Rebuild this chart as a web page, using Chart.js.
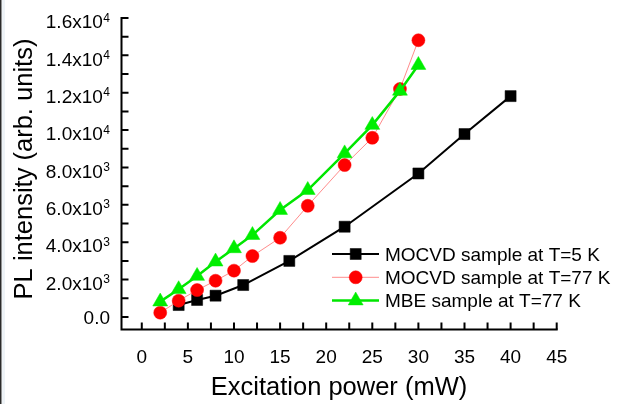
<!DOCTYPE html>
<html><head><meta charset="utf-8">
<script src="https://cdn.jsdelivr.net/npm/chart.js@4/dist/chart.umd.min.js"></script>
<style>html,body{margin:0;padding:0;background:#fff;overflow:hidden}#wrap{width:617px;height:404px;position:relative}</style>
</head><body><div id="wrap"><canvas id="c"></canvas></div>
<script>
// ---- data ----
const powerMocvd5K = [4, 6, 8, 11, 16, 22, 30, 35, 40];
const mocvd5K = [640, 910, 1140, 1710, 3000, 4830, 7680, 9790, 11820];
const power77K = [2, 4, 6, 8, 10, 12, 15, 18, 22, 25, 28, 30];
const mocvd77K = [230, 870, 1440, 1940, 2480, 3260, 4240, 5950, 8130, 9590, 12200, 14810];
const mbe77K = [820, 1480, 2190, 2960, 3670, 4380, 5720, 6790, 8750, 10270, 12100, 13480];
const seriesLabels = ['MOCVD sample at T=5 K', 'MOCVD sample at T=77 K', 'MBE sample at T=77 K'];
const xTicks = [0, 5, 10, 15, 20, 25, 30, 35, 40, 45];
const yTicks = [0, 2000, 4000, 6000, 8000, 10000, 12000, 14000, 16000];
const yTickMantissa = ['0.0', '2.0x10', '4.0x10', '6.0x10', '8.0x10', '1.0x10', '1.2x10', '1.4x10', '1.6x10'];
const yTickExponent = ['', '3', '3', '3', '3', '4', '4', '4', '4'];
const xTitle = 'Excitation power (mW)';
const yTitle = 'PL intensity (arb. units)';

const FONT = '"Liberation Sans", Arial, sans-serif';
const pts = (xs, ys) => xs.map((v, i) => ({x: v, y: ys[i]}));

const styles = [
  {color: '#000000', line: '#000000', lw: 2, ps: 'rect', r: 7.8},
  {color: '#ff0000', line: '#ff8c8c', lw: 1, ps: 'circle', r: 6.5},
  {color: '#00ee00', line: '#00e600', lw: 2.5, ps: 'triangle', r: 8.6}
];
const dataXs = [powerMocvd5K, power77K, power77K];
const dataYs = [mocvd5K, mocvd77K, mbe77K];
const orders = [2, 1, 0];

const datasets = seriesLabels.map((lab, i) => ({
  label: lab,
  data: pts(dataXs[i], dataYs[i]),
  showLine: true,
  borderColor: styles[i].line,
  borderWidth: styles[i].lw,
  backgroundColor: styles[i].color,
  pointBackgroundColor: styles[i].color,
  pointBorderColor: styles[i].color,
  pointBorderWidth: 0.5,
  pointStyle: styles[i].ps,
  pointRadius: styles[i].r,
  pointHoverRadius: styles[i].r,
  tension: 0,
  order: orders[i],
  clip: false
}));

const deco = {
  id: 'deco',
  beforeDraw(chart) {
    const ctx = chart.ctx;
    ctx.save();
    ctx.fillStyle = '#ffffff';
    ctx.fillRect(0, 0, chart.width, chart.height);
    ctx.fillStyle = '#2a2a2a';
    ctx.fillRect(0, 0, 1.5, chart.height);
    ctx.fillStyle = '#eef3f7';
    ctx.fillRect(2, 0, 3, chart.height);
    ctx.restore();
  },
  afterDraw(chart) {
    const ctx = chart.ctx;
    const xs = chart.scales.x, ys = chart.scales.y;
    const L = chart.chartArea.left, B = chart.chartArea.bottom;
    ctx.save();
    ctx.strokeStyle = '#000';
    ctx.lineWidth = 2;
    ctx.lineCap = 'butt';
    const yTop = ys.getPixelForValue(yTicks[yTicks.length - 1]);
    const xRight = xs.getPixelForValue(xTicks[xTicks.length - 1]);
    ctx.beginPath();
    ctx.moveTo(L, B + 1); ctx.lineTo(L, yTop - 1);
    ctx.moveTo(L - 1, B); ctx.lineTo(xRight + 1, B);
    ctx.stroke();
    // ticks (inward), major + minor
    const tl = 7;
    ctx.beginPath();
    for (let i = 0; i < xTicks.length; i++) {
      const v = xTicks[i];
      const px = xs.getPixelForValue(v);
      ctx.moveTo(px, B); ctx.lineTo(px, B - tl);
      if (i < xTicks.length - 1) {
        const pm = xs.getPixelForValue((v + xTicks[i + 1]) / 2);
        ctx.moveTo(pm, B); ctx.lineTo(pm, B - tl);
      }
    }
    for (let i = 0; i < yTicks.length; i++) {
      const v = yTicks[i];
      const py = ys.getPixelForValue(v);
      ctx.moveTo(L, py); ctx.lineTo(L + tl, py);
      if (i < yTicks.length - 1) {
        const pm = ys.getPixelForValue((v + yTicks[i + 1]) / 2);
        ctx.moveTo(L, pm); ctx.lineTo(L + tl, pm);
      }
    }
    ctx.stroke();
    // x tick labels
    ctx.fillStyle = '#000';
    ctx.font = '19px ' + FONT;
    ctx.textAlign = 'center';
    ctx.textBaseline = 'alphabetic';
    xTicks.forEach(v => ctx.fillText(String(v), xs.getPixelForValue(v), 363));
    // y tick labels with superscript exponents
    const rightEdge = 110;
    yTicks.forEach((v, i) => {
      const py = ys.getPixelForValue(v);
      const e = yTickExponent[i];
      if (!e) {
        ctx.font = '19px ' + FONT;
        ctx.textAlign = 'right';
        ctx.fillText(yTickMantissa[i], rightEdge, py + 6.8);
      } else {
        ctx.font = '12px ' + FONT;
        ctx.textAlign = 'right';
        const ew = ctx.measureText(e).width;
        ctx.fillText(e, rightEdge, py + 3.6);
        ctx.font = '19px ' + FONT;
        ctx.fillText(yTickMantissa[i], rightEdge - ew - 0.5, py + 10.2);
      }
    });
    // axis titles
    ctx.font = '25.5px ' + FONT;
    ctx.textAlign = 'center';
    ctx.fillText(xTitle, 339, 395);
    ctx.save();
    ctx.translate(32, 169);
    ctx.rotate(-Math.PI / 2);
    ctx.fillText(yTitle, 0, 0);
    ctx.restore();
    // legend
    const rows = [254, 277.3, 300.6];
    chart.data.datasets.forEach((ds, i) => {
      const cy = rows[i];
      ctx.strokeStyle = ds.borderColor;
      ctx.lineWidth = ds.borderWidth;
      ctx.beginPath();
      ctx.moveTo(332, cy); ctx.lineTo(379, cy);
      ctx.stroke();
      ctx.fillStyle = ds.pointBackgroundColor;
      ctx.strokeStyle = ds.pointBorderColor;
      ctx.lineWidth = ds.pointBorderWidth;
      Chart.helpers.drawPoint(ctx, {pointStyle: ds.pointStyle, radius: ds.pointRadius, rotation: 0, borderWidth: ds.pointBorderWidth}, 355.7, cy);
      ctx.fillStyle = '#000';
      ctx.font = '19px ' + FONT;
      ctx.textAlign = 'left';
      ctx.fillText(ds.label, 385, cy + 6.8);
    });
    ctx.restore();
  }
};

new Chart(document.getElementById('c'), {
  type: 'scatter',
  data: {datasets},
  options: {
    responsive: true,
    maintainAspectRatio: false,
    animation: false,
    devicePixelRatio: 1,
    layout: {padding: {left: 0, right: 60.3, top: 18, bottom: 0}},
    plugins: {legend: {display: false}, tooltip: {enabled: false}},
    scales: {
      x: {
        type: 'linear', min: -2.2, max: 45,
        grid: {display: false, drawTicks: false, tickLength: 0},
        border: {display: false},
        ticks: {display: false},
        afterBuildTicks: s => { s.ticks = xTicks.map(v => ({value: v})); },
        afterFit: s => { s.height = 74.5; }
      },
      y: {
        type: 'linear', min: -670, max: 16000,
        grid: {display: false, drawTicks: false, tickLength: 0},
        border: {display: false},
        ticks: {display: false},
        afterBuildTicks: s => { s.ticks = yTicks.map(v => ({value: v})); },
        afterFit: s => { s.width = 121.5; }
      }
    }
  },
  plugins: [deco]
});
</script>
</body></html>
